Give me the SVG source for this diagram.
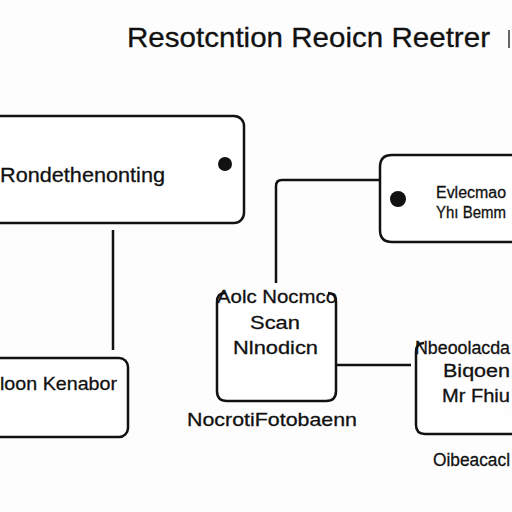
<svg xmlns="http://www.w3.org/2000/svg" width="512" height="512" viewBox="0 0 512 512">
<style>
.box{fill:#fff;stroke:#111;stroke-width:2.5}
.ln{fill:none;stroke:#111;stroke-width:2.5}
text{font-family:"Liberation Sans",Arial,sans-serif;fill:#111;stroke:#111;stroke-width:0.3}
.t{font-size:19px}
</style>
<rect width="512" height="512" fill="#fdfdfd"/>
<g id="title">
<text x="127" y="47" font-size="28" textLength="363" lengthAdjust="spacingAndGlyphs">Resotcntion Reoicn Reetrer</text>
<line x1="509" y1="30" x2="509" y2="48" stroke="#666" stroke-width="2"/>
</g>
<g id="connectors">
<line class="ln" x1="113" y1="230" x2="113" y2="350"/>
<path class="ln" d="M276 283 V186 Q276 180 282 180 H380"/>
<line class="ln" x1="336" y1="365" x2="411" y2="365"/>
</g>
<g id="node-rondethenonting">
<rect class="box" x="-10" y="116" width="254" height="107" rx="10"/>
<text x="0" y="182" font-size="21" textLength="165" lengthAdjust="spacingAndGlyphs">Rondethenonting</text>
<circle cx="225" cy="164" r="7" fill="#111"/>
</g>
<g id="node-evlecmao">
<path class="box" d="M514 155 H392 Q380 155 380 167 V230 Q380 242 392 242 H514"/>
<circle cx="398" cy="199" r="8" fill="#111"/>
<text x="436" y="198" font-size="16" textLength="70" lengthAdjust="spacingAndGlyphs">Evlecmao</text>
<text x="436" y="218" font-size="16" textLength="70" lengthAdjust="spacingAndGlyphs">Yhı Bemm</text>
</g>
<g id="node-scan">
<path class="box" d="M217 302 Q217 293 225 293 M328 293 Q336 293 336 302 V391 Q336 401 326 401 H227 Q217 401 217 391 V302"/>
<text x="217" y="303" class="t" textLength="120" lengthAdjust="spacingAndGlyphs">Aolc Nocmco</text>
<text x="250" y="329" class="t" textLength="50" lengthAdjust="spacingAndGlyphs">Scan</text>
<text x="233" y="354" class="t" textLength="85" lengthAdjust="spacingAndGlyphs">Nlnodicn</text>
</g>
<g id="node-loon">
<rect class="box" x="-10" y="358" width="138" height="79" rx="9"/>
<text x="0" y="390" class="t" textLength="117" lengthAdjust="spacingAndGlyphs">loon Kenabor</text>
</g>
<g id="node-nbeoolacda">
<path class="box" d="M530 434 H425 Q416 434 416 425 V352 Q416 343 424 343"/>
<text x="415" y="354" font-size="18" textLength="95" lengthAdjust="spacingAndGlyphs">Nbeoolacda</text>
<text x="443" y="377" font-size="18" textLength="67" lengthAdjust="spacingAndGlyphs">Biqoen</text>
<text x="442" y="402" font-size="18" textLength="68" lengthAdjust="spacingAndGlyphs">Mr Fhiu</text>
</g>
<g id="label-oibeacacl">
<text x="433" y="466" font-size="18" textLength="77" lengthAdjust="spacingAndGlyphs">Oibeacacl</text>
</g>
<g id="label-nocroti">
<text x="187" y="426" font-size="19" textLength="170" lengthAdjust="spacingAndGlyphs">NocrotiFotobaenn</text>
</g>
</svg>
